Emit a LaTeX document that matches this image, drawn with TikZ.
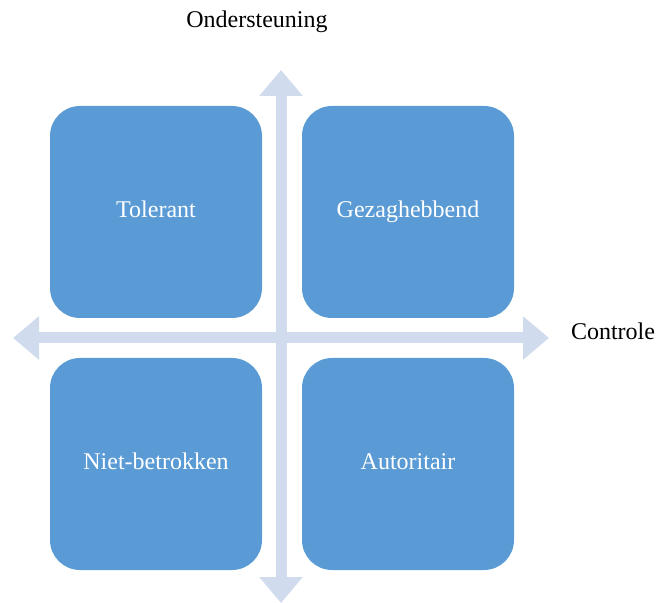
\documentclass[tikz,border=0pt]{standalone}
\usepackage{fontspec}
\setmainfont{Liberation Serif}
\usetikzlibrary{arrows.meta}
\definecolor{vakblauw}{RGB}{91,155,213}
\definecolor{aslicht}{RGB}{208,220,238}
\begin{document}
\begin{tikzpicture}[
x=0.5pt, y=-0.5pt,
vak/.style={
fill=vakblauw,
rounded corners=15pt,
minimum width=106pt,
minimum height=106pt,
text height=8.5pt,
text depth=2.5pt,
text=white,
font=\fontsize{12}{14}\selectfont
},
as/.style={
draw=aslicht,
line width=5.5pt,
{Triangle[width=21pt,length=13pt]}-{Triangle[width=21pt,length=13pt]}
},
astekst/.style={font=\fontsize{12}{14}\selectfont}
]
\useasboundingbox (0,0) rectangle (658,603);

\coordinate (Boven) at (281,70);
\coordinate (Onder) at (281,603);
\coordinate (Links) at (13,338);
\coordinate (Rechts) at (549,338);

\draw[as] (Onder) -- (Boven);
\draw[as] (Links) -- (Rechts);

\node[vak] (T) at (156,212) {Tolerant};
\node[vak] (G) at (408,212) {Gezaghebbend};

\node[vak] (N) at (156,464) {Niet-betrokken};
\node[vak] (A) at (408,464) {Autoritair};

\node[astekst] (O) at (257,22) {Ondersteuning};
\node[astekst] (C) at (613,331) {Controle};

\end{tikzpicture}
\end{document}
